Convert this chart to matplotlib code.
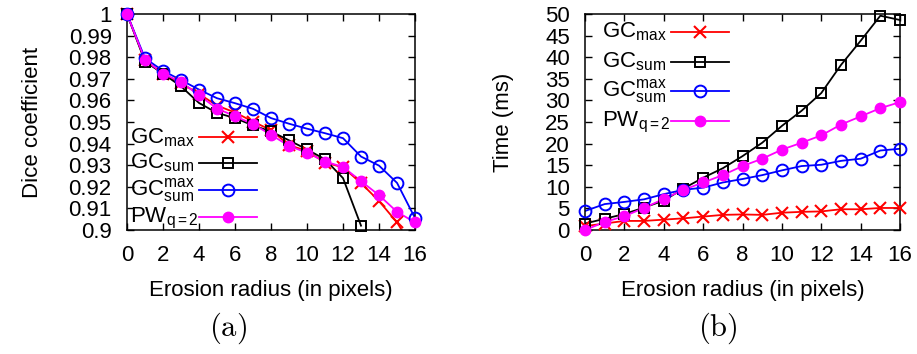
import numpy as np
import matplotlib
matplotlib.use("Agg")
from matplotlib import pyplot as plt

plt.rcParams['font.family'] = ['Liberation Sans', 'DejaVu Sans']
plt.rcParams['mathtext.fontset'] = 'custom'
plt.rcParams['mathtext.rm'] = 'Liberation Sans'
plt.rcParams['mathtext.it'] = 'Liberation Sans:italic'
plt.rcParams['mathtext.bf'] = 'Liberation Sans:bold'

# erosion radius
radius = np.arange(17)

# (a) Dice coefficient
dice_gc_max = [1.0, 0.9785, 0.9724, 0.968, 0.963, 0.9576, 0.9544, 0.9502, 0.9462,
               0.9393, 0.9366, 0.9312, 0.929, 0.9217, 0.9134, 0.9035, 0.89]
dice_gc_sum = [1.0, 0.978, 0.9724, 0.9665, 0.9588, 0.9542, 0.9518, 0.9484, 0.9456,
               0.9415, 0.9373, 0.9327, 0.924, 0.902, np.nan, np.nan, np.nan]
dice_gc_summax = [1.0, 0.9795, 0.9737, 0.9694, 0.965, 0.961, 0.9587, 0.9561, 0.9518,
                  0.9492, 0.9469, 0.9448, 0.9425, 0.934, 0.9298, 0.9218, 0.9055]
dice_pw = [1.0, 0.9787, 0.9724, 0.9685, 0.9624, 0.9562, 0.9527, 0.949, 0.9441,
           0.9389, 0.9358, 0.9317, 0.9292, 0.9226, 0.9161, 0.9084, 0.9035]

# (b) Time (ms)
time_gc_max = [0.9, 1.5, 2.1, 2.1, 2.4, 2.7, 3.1, 3.5, 3.6, 3.5, 4.0, 4.2, 4.3,
               4.8, 4.8, 5.1, 5.1]
time_gc_sum = [1.5, 2.6, 3.7, 5.2, 6.8, 9.6, 12.1, 14.3, 17.1, 20.2, 24.1, 27.6,
               31.7, 38.2, 43.8, 49.6, 48.6]
time_gc_summax = [4.4, 6.0, 6.5, 7.1, 8.3, 9.3, 9.8, 11.0, 11.8, 12.7, 13.8, 14.8,
                  15.1, 16.0, 16.5, 18.4, 18.8]
time_pw = [0.0, 1.85, 3.2, 5.1, 7.2, 9.3, 11.0, 12.7, 14.8, 16.5, 18.6, 20.2,
           21.9, 24.4, 26.3, 28.2, 29.6]

labels = [r'GC$_{\mathrm{max}}$', r'GC$_{\mathrm{sum}}$',
          r'GC$_{\mathrm{sum}}^{\mathrm{max}}$', r'PW$_{\mathrm{q{=}2}}$']
colors = ['#ff0000', '#000000', '#0000ff', '#ff00ff']
markers = [dict(marker='x', ms=8.5, mew=1.5, mfc='none'),
           dict(marker='s', ms=7.5, mew=1.4, mfc='none'),
           dict(marker='o', ms=8.5, mew=1.4, mfc='none'),
           dict(marker='o', ms=7.5, mew=1.0)]

FS = 16


def draw_series(ax, x, ys, ylim):
    for y, c, m in zip(ys, colors, markers):
        y = np.asarray(y, dtype=float)
        ax.plot(x, y, color=c, lw=1.3, clip_on=True)
        ok = (y >= ylim[0]) & (y <= ylim[1])
        ax.plot(x[ok], y[ok], ls='none', color=c, mec=c,
                clip_on=False, zorder=3, **m)


def draw_key(ax, text_x, line_x, rows_y):
    # gnuplot-like key: text on the left, sample on the right
    for lab, c, m, ry in zip(labels, colors, markers, rows_y):
        ax.text(text_x, ry - 0.027, lab, transform=ax.transAxes, fontsize=FS,
                ha='left', va='baseline')
        ax.plot(line_x, [ry, ry], color=c, lw=1.3, transform=ax.transAxes,
                clip_on=False)
        ax.plot([np.mean(line_x)], [ry], ls='none', color=c, mec=c,
                transform=ax.transAxes, clip_on=False, **m)


def style_axes(ax):
    ax.tick_params(direction='in', length=5, width=1.0, labelsize=FS,
                   top=True, right=True)
    ax.tick_params(axis='x', pad=11)
    ax.tick_params(axis='y', pad=11)
    for s in ax.spines.values():
        s.set_linewidth(1.1)
    ax.set_xlim(0, 16)
    ax.set_xticks(np.arange(0, 17, 2))
    ax.set_xlabel('Erosion radius (in pixels)', fontsize=FS, labelpad=10)


fig = plt.figure(figsize=(9.17, 3.54), dpi=100)
ax1 = fig.add_axes([0.1385, 0.3503, 0.3141, 0.6102])
ax2 = fig.add_axes([0.638, 0.3503, 0.3435, 0.6102])

ylim1 = (0.9, 1.0)
draw_series(ax1, radius, [dice_gc_max, dice_gc_sum, dice_gc_summax, dice_pw], ylim1)
style_axes(ax1)
ax1.set_ylim(*ylim1)
ax1.set_yticks(np.round(np.arange(0.9, 1.001, 0.01), 2))
ax1.set_yticklabels(['0.9', '0.91', '0.92', '0.93', '0.94', '0.95', '0.96',
                     '0.97', '0.98', '0.99', '1'])
ax1.set_ylabel('Dice coefficient', fontsize=FS, labelpad=18)
draw_key(ax1, 0.01, [0.25, 0.45], [0.43, 0.31, 0.185, 0.06])

ylim2 = (0, 50)
draw_series(ax2, radius, [time_gc_max, time_gc_sum, time_gc_summax, time_pw], ylim2)
style_axes(ax2)
ax2.set_ylim(*ylim2)
ax2.set_yticks(np.arange(0, 51, 5))
ax2.set_ylabel('Time (ms)', fontsize=FS, labelpad=22)
draw_key(ax2, 0.054, [0.273, 0.457], [0.917, 0.778, 0.644, 0.505])

fig.text(228 / 917, 1 - 328 / 354, r'$\mathrm{(a)}$', math_fontfamily='cm',
         fontsize=22, ha='center', va='center')
fig.text(718 / 917, 1 - 328 / 354, r'$\mathrm{(b)}$', math_fontfamily='cm',
         fontsize=22, ha='center', va='center')

fig.savefig('out.png', dpi=100)
